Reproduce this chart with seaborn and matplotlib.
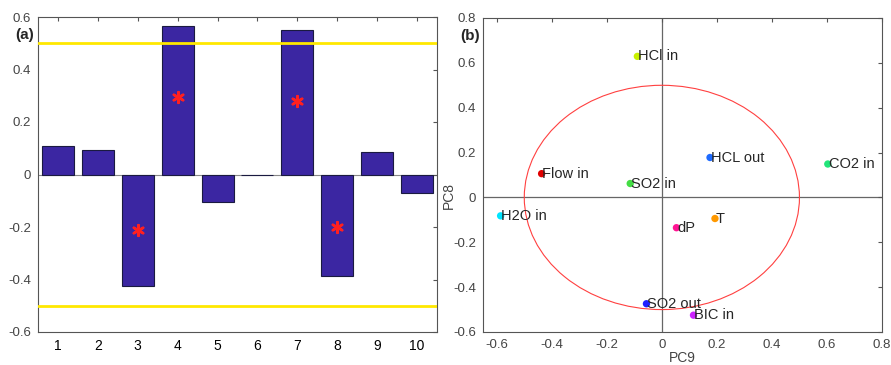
import matplotlib
matplotlib.use("Agg")
import matplotlib.pyplot as plt
import seaborn as sns
import pandas as pd
import numpy as np
from matplotlib.patches import Circle

# ---- data: panel (a) ----
components = ["1", "2", "3", "4", "5", "6", "7", "8", "9", "10"]
loadings = [0.110, 0.095, -0.423, 0.565, -0.105, 0.0, 0.551, -0.386, 0.086, -0.072]
star_components = ["3", "4", "7", "8"]
star_values = [-0.21, 0.295, 0.28, -0.20]
threshold = 0.5

# ---- data: panel (b) ----
var_names = ["HCl in", "HCL out", "CO2 in", "Flow in", "SO2 in", "H2O in", "T", "dP", "SO2 out", "BIC in"]
pc9 = [-0.089, 0.175, 0.603, -0.437, -0.115, -0.586, 0.193, 0.053, -0.056, 0.115]
pc8 = [0.629, 0.178, 0.149, 0.106, 0.062, -0.082, -0.094, -0.135, -0.474, -0.525]
point_colors = ["#C8F000", "#1E6BFF", "#22E57A", "#E00000", "#44DD44", "#00E5FF",
                "#FF9900", "#FF1493", "#2020FF", "#CC22FF"]
circle_radius = 0.5

sns.set_style("white")
plt.rcParams["font.family"] = ["Liberation Sans", "DejaVu Sans"]

fig = plt.figure(figsize=(8.91, 3.65), dpi=100)
axA = fig.add_axes([38/891, 33/365, 399/891, 315/365])
axB = fig.add_axes([483/891, 33/365, 399/891, 314/365])

grey = "#555555"

# ---- panel (a) ----
dfA = pd.DataFrame({"comp": components, "val": loadings})
sns.barplot(data=dfA, x="comp", y="val", order=components, color="#3B26A2",
            saturation=1, width=0.8, edgecolor="#1a1a40", linewidth=0.8, ax=axA)
axA.axhline(0, color="#888888", lw=0.8, zorder=0.5)
for yv in (threshold, -threshold):
    axA.axhline(yv, color="#FFE800", lw=2.0, zorder=3)
xpos = [components.index(c) for c in star_components]
sns.scatterplot(x=xpos, y=star_values, marker=(6, 2, 0), s=60, color="#FF2020",
                linewidth=1.8, ax=axA, zorder=4, legend=False)
axA.set_xlim(-0.5, 9.5)
axA.set_ylim(-0.6, 0.6)
axA.set_yticks(np.arange(-0.6, 0.61, 0.2))
axA.set_yticklabels(["-0.6", "-0.4", "-0.2", "0", "0.2", "0.4", "0.6"])
axA.set_xlabel("")
axA.set_ylabel("")
axA.tick_params(axis="y", direction="in", length=3, labelsize=9.5, labelcolor="#444444",
                right=True, color=grey, pad=5)
axA.tick_params(axis="x", direction="in", length=3, labelsize=10, labelcolor="black",
                top=True, color=grey, pad=5)
for s in axA.spines.values():
    s.set_color(grey)
    s.set_linewidth(0.8)
axA.text(-0.034, 0.53, "(a)", transform=axA.get_yaxis_transform(), fontsize=11,
         fontweight="bold", ha="center", va="center")

# ---- panel (b) ----
dfB = pd.DataFrame({"name": var_names, "PC9": pc9, "PC8": pc8})
axB.axhline(0, color="#666666", lw=0.9, zorder=0.5)
axB.axvline(0, color="#666666", lw=0.9, zorder=0.5)
axB.add_patch(Circle((0, 0), circle_radius, fill=False, edgecolor="#FF4040", lw=0.8, zorder=1))
sns.scatterplot(data=dfB, x="PC9", y="PC8", hue="name", palette=point_colors,
                hue_order=var_names, s=28, edgecolor="none", legend=False, ax=axB, zorder=3)
for n, xv, yv in zip(var_names, pc9, pc8):
    axB.text(xv + 0.003, yv, n, fontsize=10.5, ha="left", va="center", zorder=4)
axB.set_xlim(-0.65, 0.8)
axB.set_ylim(-0.6, 0.8)
axB.set_xticks(np.arange(-0.6, 0.81, 0.2))
axB.set_xticklabels(["-0.6", "-0.4", "-0.2", "0", "0.2", "0.4", "0.6", "0.8"])
axB.set_yticks(np.arange(-0.6, 0.81, 0.2))
axB.set_yticklabels(["-0.6", "-0.4", "-0.2", "0", "0.2", "0.4", "0.6", "0.8"])
axB.tick_params(axis="both", direction="in", length=3, labelsize=9.5, labelcolor="#444444",
                top=True, right=True, color=grey, pad=5)
for s in axB.spines.values():
    s.set_color(grey)
    s.set_linewidth(0.8)
axB.set_xlabel("PC9", fontsize=10, color="#444444")
axB.set_ylabel("PC8", fontsize=10, color="#444444")
axB.xaxis.set_label_coords(0.5, -0.062)
axB.yaxis.set_label_coords(-0.085, 0.436)
axB.yaxis.label.set_va("center")
axB.text(-0.696, 0.72, "(b)", fontsize=11, fontweight="bold", ha="center", va="center",
         clip_on=False)

fig.savefig("out.png", dpi=100)
